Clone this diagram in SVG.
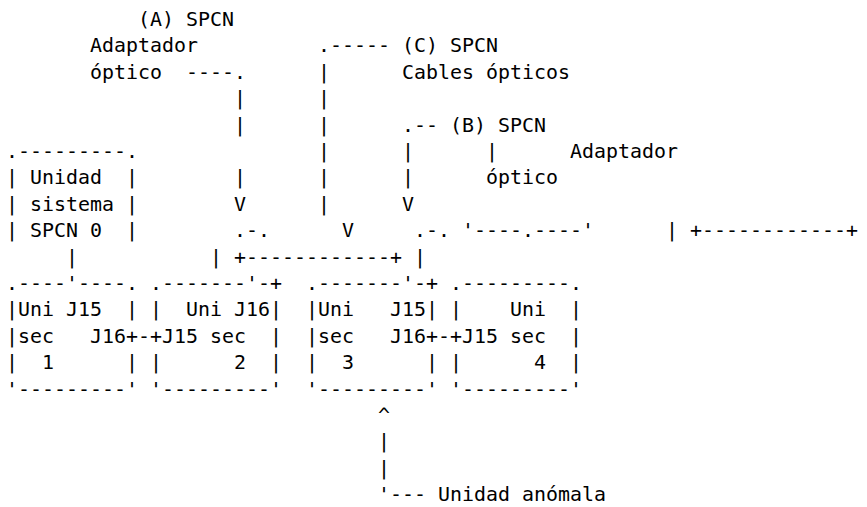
<svg xmlns="http://www.w3.org/2000/svg" width="867" height="507" viewBox="0 0 867 507" xml:space="preserve">
<style>
text { font-family: "DejaVu Sans Mono", "Liberation Mono", monospace; font-size: 19.93px; fill: #000; white-space: pre; }
</style>
<rect x="0" y="0" width="867" height="507" fill="#fff"/>
<g id="connectors">
<text x="318" y="52.4">.-----</text>
<text x="186" y="78.8">----.</text>
<text x="318" y="78.8">|</text>
<text x="234" y="105.2">|</text>
<text x="318" y="105.2">|</text>
<text x="234" y="131.6">|</text>
<text x="318" y="131.6">|</text>
<text x="402" y="131.6">.--</text>
<text x="318" y="158">|</text>
<text x="402" y="158">|</text>
<text x="486" y="158">|</text>
<text x="234" y="184.4">|</text>
<text x="318" y="184.4">|</text>
<text x="402" y="184.4">|</text>
<text x="234" y="210.8">V</text>
<text x="318" y="210.8">|</text>
<text x="402" y="210.8">V</text>
<text x="234" y="237.2">.-.</text>
<text x="342" y="237.2">V</text>
<text x="414" y="237.2">.-.</text>
<text x="462" y="237.2">'----.----'</text>
<text x="666" y="237.2">|</text>
<text x="690" y="237.2">+------------+</text>
<text x="66" y="263.6">|</text>
<text x="210" y="263.6">|</text>
<text x="234" y="263.6">+------------+</text>
<text x="414" y="263.6">|</text>
<text x="126" y="342.8">+-+</text>
<text x="426" y="342.8">+-+</text>
<text x="378" y="422">^</text>
<text x="378" y="448.4">|</text>
<text x="378" y="474.8">|</text>
<text x="378" y="501.2">'---</text>
</g>
<g id="label-a">
<text x="138" y="26">(A) SPCN</text>
<text x="90" y="52.4">Adaptador</text>
<text x="90" y="78.8">óptico</text>
</g>
<g id="label-c">
<text x="402" y="52.4">(C) SPCN</text>
<text x="402" y="78.8">Cables ópticos</text>
</g>
<g id="label-b">
<text x="450" y="131.6">(B) SPCN</text>
<text x="570" y="158">Adaptador</text>
<text x="486" y="184.4">óptico</text>
</g>
<g id="sys0">
<text x="6" y="158">.---------.</text>
<text x="6" y="184.4">| Unidad  |</text>
<text x="6" y="210.8">| sistema |</text>
<text x="6" y="237.2">| SPCN 0  |</text>
</g>
<g id="unit1">
<text x="6" y="290">.----'----.</text>
<text x="6" y="316.4">|Uni J15  |</text>
<text x="6" y="342.8">|sec   J16</text>
<text x="6" y="369.2">|  1      |</text>
<text x="6" y="395.6">'---------'</text>
</g>
<g id="unit2">
<text x="150" y="290">.-------'-+</text>
<text x="150" y="316.4">|  Uni J16|</text>
<text x="162" y="342.8">J15 sec  |</text>
<text x="150" y="369.2">|      2  |</text>
<text x="150" y="395.6">'---------'</text>
</g>
<g id="unit3">
<text x="306" y="290">.-------'-+</text>
<text x="306" y="316.4">|Uni   J15|</text>
<text x="306" y="342.8">|sec   J16</text>
<text x="306" y="369.2">|  3      |</text>
<text x="306" y="395.6">'---------'</text>
</g>
<g id="unit4">
<text x="450" y="290">.---------.</text>
<text x="450" y="316.4">|    Uni  |</text>
<text x="462" y="342.8">J15 sec  |</text>
<text x="450" y="369.2">|      4  |</text>
<text x="450" y="395.6">'---------'</text>
</g>
<g id="label-anomala">
<text x="438" y="501.2">Unidad anómala</text>
</g>
</svg>
